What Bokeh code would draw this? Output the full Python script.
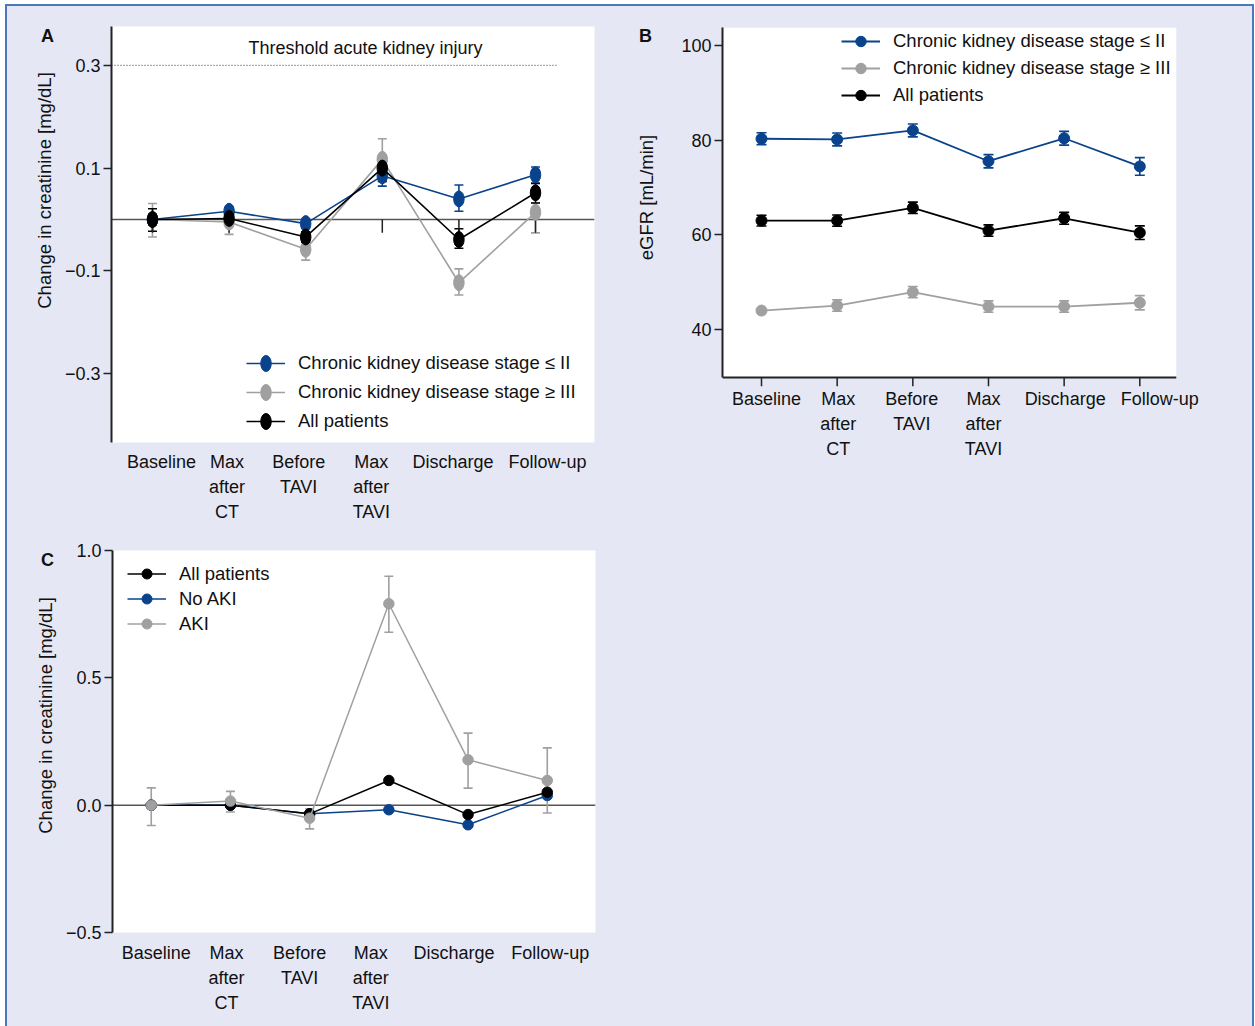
import math
from bokeh.plotting import figure
from bokeh.models import (ColumnDataSource, Whisker, TeeHead, Span, Label, Legend, BoxAnnotation,
                          LegendItem, FixedTicker, Range1d, Spacer, LinearAxis)
from bokeh.embed import file_html
from bokeh.resources import INLINE

# ---------------- data ----------------
categories = ["Baseline", "Max after CT", "Before TAVI", "Max after TAVI", "Discharge", "Follow-up"]
tick_labels = ["Baseline", "Max\nafter\nCT", "Before\nTAVI", "Max\nafter\nTAVI", "Discharge", "Follow-up"]

# Panel A: change in creatinine [mg/dL] by CKD stage
a_ckd12 = [0.0, 0.016, -0.008, 0.085, 0.040, 0.087]
a_ckd12_lo = [-0.010, 0.006, -0.016, 0.065, 0.016, 0.071]
a_ckd12_hi = [0.010, 0.024, 0.000, 0.105, 0.067, 0.102]
a_ckd3 = [0.0, -0.005, -0.058, 0.117, -0.123, 0.014]
a_ckd3_lo = [-0.034, -0.029, -0.079, 0.074, -0.147, -0.026]
a_ckd3_hi = [0.031, 0.016, -0.036, 0.157, -0.096, 0.032]
a_all = [0.0, 0.002, -0.034, 0.100, -0.039, 0.052]
a_all_lo = [-0.023, -0.008, -0.044, 0.074, -0.056, 0.032]
a_all_hi = [0.021, 0.012, -0.024, 0.123, -0.018, 0.070]
aki_threshold = 0.3
a_yticks = [-0.3, -0.1, 0.1, 0.3]

# Panel B: eGFR [mL/min]
b_ckd12 = [80.3, 80.15, 82.05, 75.55, 80.4, 74.45]
b_ckd12_err = [1.25, 1.35, 1.35, 1.4, 1.45, 1.85]
b_ckd3 = [44.0, 45.05, 47.9, 44.85, 44.85, 45.65]
b_ckd3_err = [0.3, 1.2, 1.2, 1.2, 1.2, 1.5]
b_all = [63.0, 63.0, 65.7, 60.9, 63.5, 60.45]
b_all_err = [1.15, 1.2, 1.2, 1.2, 1.25, 1.45]
b_yticks = [40, 60, 80, 100]
b_axis_min = 29.86

# Panel C: change in creatinine [mg/dL] by AKI
c_all = [0.0, 0.0, -0.034, 0.097, -0.037, 0.051]
c_noaki = [0.0, 0.0, -0.034, -0.018, -0.077, 0.038]
c_aki = [0.0, 0.016, -0.051, 0.791, 0.178, 0.097]
c_aki_lo = [-0.080, -0.027, -0.093, 0.679, 0.067, -0.031]
c_aki_hi = [0.068, 0.054, -0.014, 0.899, 0.283, 0.225]
c_yticks = [-0.5, 0.0, 0.5, 1.0]

# ---------------- style / layout ----------------
BLUE = "#0a438c"
GREY = "#a0a0a0"
BLACK = "#000000"
LAV = "#e5e8f4"
BORDER = "#4a78b8"
AXC = "#222222"
FONT = "Liberation Sans"

# horizontal nudges (px) of the category labels, as typeset in the original figure
lab_dx_A = [9, -2, -7, -11, -6, 12]
lab_dx_B = [5, 1, -1, -5, 1, 20]
lab_dx_C = [5, -4, -10, -18, -14, 3]

x_idx = list(range(len(categories)))

try:
    Label(x=0, y=0, x_units="canvas", y_units="canvas")
    UNITS = "canvas"
except Exception:
    UNITS = "screen"


def minus(v, fmt):
    s = fmt.format(abs(v))
    return ("\u2212" + s) if v < 0 else s


def base_fig(width, height, xr, yr, mbl, mbr, mbt, mbb, left, top, yticks, yfmt):
    p = figure(width=width, height=height, x_range=Range1d(*xr), y_range=Range1d(*yr),
               output_backend="svg", toolbar_location=None, x_axis_location=None,
               min_border_left=mbl, min_border_right=mbr, min_border_top=mbt, min_border_bottom=mbb,
               styles={"position": "absolute", "left": f"{left}px", "top": f"{top}px"})
    p.xgrid.visible = False
    p.ygrid.visible = False
    p.outline_line_color = None
    p.background_fill_color = "white"
    p.border_fill_color = LAV
    ya = p.yaxis[0]
    ya.ticker = FixedTicker(ticks=yticks)
    ya.major_label_overrides = {v: minus(v, yfmt) for v in yticks}
    ya.axis_line_color = AXC
    ya.axis_line_width = 2
    ya.major_tick_line_color = AXC
    ya.major_tick_line_width = 1.5
    ya.major_tick_out = 8
    ya.major_tick_in = 0
    ya.minor_tick_line_color = None
    ya.major_label_standoff = 3
    ya.major_label_text_font = FONT
    ya.major_label_text_font_size = "18px"
    ya.major_label_text_color = "#111"
    return p


def label_axis(p, dx_px, px_per_unit, standoff):
    pos = [round(i + d / px_per_unit, 4) for i, d in zip(x_idx, dx_px)]
    ax = LinearAxis(ticker=FixedTicker(ticks=pos),
                    major_label_overrides={v: lab for v, lab in zip(pos, tick_labels)},
                    axis_line_color=None, major_tick_line_color=None, minor_tick_line_color=None,
                    major_tick_out=0, major_tick_in=0, major_label_standoff=standoff,
                    major_label_text_font=FONT, major_label_text_font_size="18px",
                    major_label_text_line_height=1.25, major_label_text_color="#111")
    p.add_layout(ax, "below")


def whisk(p, lo, hi, color, size=9):
    src = ColumnDataSource(dict(x=x_idx, lower=lo, upper=hi))
    w = Whisker(base="x", lower="lower", upper="upper", source=src,
                line_color=color, line_width=1.6, level="underlay",
                upper_head=TeeHead(size=size, line_color=color, line_width=1.6),
                lower_head=TeeHead(size=size, line_color=color, line_width=1.6))
    p.add_layout(w)


def legend(p, items, loc, gh, spacing):
    lg = Legend(items=items, location=loc, glyph_width=39, glyph_height=gh, label_height=gh,
                spacing=spacing, padding=0, margin=0, border_line_color=None,
                background_fill_alpha=0, label_standoff=13,
                label_text_font=FONT, label_text_font_size="18.5px", label_text_color="#111")
    p.add_layout(lg)


def side_text(p, txt, x, y, size="18px", bold=False, angle=0.0):
    # x, y in canvas pixels from the canvas top-left corner
    p.add_layout(Label(x=x, y=y, x_units=UNITS, y_units=UNITS, text=txt, angle=angle,
                       text_font=FONT, text_font_style="bold" if bold else "normal",
                       text_font_size=size, text_align="center", text_baseline="middle",
                       text_color="#111"), "left")


# ---------------- Panel A ----------------
pA = base_fig(600, 525, (-0.535, 5.77), (-0.4339, 0.3755), 104, 13, 20, 89, 7, 6, a_yticks, "{:.1f}")
label_axis(pA, lab_dx_A, 76.6, 9)

pA.add_layout(Span(location=0, dimension="width", line_color="#555555", line_width=1.5, level="underlay"))
pA.segment(x0=[-0.535], y0=[aki_threshold], x1=[5.29], y1=[aki_threshold],
           line_color="#333333", line_width=1, line_dash="1 2")
pA.add_layout(Label(x=2.78, y=0.333, text="Threshold acute kidney injury", text_font=FONT,
                    text_font_size="18px", text_align="center", text_baseline="middle", text_color="#111"))
pA.segment(x0=x_idx, y0=[0] * 6, x1=x_idx, y1=[-0.026] * 6, line_color=AXC, line_width=1.5)

whisk(pA, a_ckd3_lo, a_ckd3_hi, GREY)
whisk(pA, a_ckd12_lo, a_ckd12_hi, BLUE)
whisk(pA, a_all_lo, a_all_hi, BLACK)

rA = {}
for name, ys, col in [("g", a_ckd3, GREY), ("b", a_ckd12, BLUE), ("k", a_all, BLACK)]:
    ln = pA.line(x_idx, ys, line_color=col, line_width=1.6)
    el = pA.ellipse(x=x_idx, y=ys, width=10.5, height=16, width_units="screen", height_units="screen",
                    fill_color=col, line_color=col)
    rA[name] = [ln, el]
legend(pA, [LegendItem(label="Chronic kidney disease stage \u2264 II", renderers=rA["b"]),
            LegendItem(label="Chronic kidney disease stage \u2265 III", renderers=rA["g"]),
            LegendItem(label="All patients", renderers=rA["k"])], (135, 10), 20, 7)
side_text(pA, "A", 40, 29, bold=True)
side_text(pA, "Change in creatinine [mg/dL]", 37, 184, size="18.5px", angle=math.pi / 2)

# ---------------- Panel B ----------------
px_b = 4.733  # px per mL/min
pB = base_fig(645, 525, (-0.5155, 5.485), (b_axis_min - 9 / px_b, 103.8), 115, 76, 21, 145, 607, 6,
              b_yticks, "{:.0f}")
pB.background_fill_color = LAV
pB.yaxis[0].bounds = (b_axis_min, 103.8)
pB.add_layout(BoxAnnotation(bottom=b_axis_min, fill_color="white", fill_alpha=1.0,
                            line_color=None, level="underlay"))
pB.add_layout(Span(location=b_axis_min, dimension="width", line_color=AXC, line_width=2))
pB.segment(x0=x_idx, y0=[b_axis_min] * 6, x1=x_idx, y1=[b_axis_min - 9 / px_b] * 6,
           line_color=AXC, line_width=1.5)
label_axis(pB, lab_dx_B, 75.66, 2)

rB = {}
for name, ys, err, col in [("b", b_ckd12, b_ckd12_err, BLUE), ("g", b_ckd3, b_ckd3_err, GREY),
                           ("k", b_all, b_all_err, BLACK)]:
    whisk(pB, [y - e for y, e in zip(ys, err)], [y + e for y, e in zip(ys, err)], col, size=10)
    ln = pB.line(x_idx, ys, line_color=col, line_width=1.8)
    sc = pB.scatter(x_idx, ys, size=11, marker="circle", fill_color=col, line_color=col)
    rB[name] = [ln, sc]
legend(pB, [LegendItem(label="Chronic kidney disease stage \u2264 II", renderers=rB["b"]),
            LegendItem(label="Chronic kidney disease stage \u2265 III", renderers=rB["g"]),
            LegendItem(label="All patients", renderers=rB["k"])], (119, 278), 26, 1)
side_text(pB, "B", 38, 29, bold=True)
side_text(pB, "eGFR [mL/min]", 39, 191, size="18.5px", angle=math.pi / 2)

# ---------------- Panel C ----------------
pC = base_fig(600, 495, (-0.489, 5.609), (-0.5, 1.0), 105, 12, 19, 94, 7, 531, c_yticks, "{:.1f}")
label_axis(pC, lab_dx_C, 79.2, 10)

pC.add_layout(Span(location=0, dimension="width", line_color="#555555", line_width=1.5, level="underlay"))
whisk(pC, c_aki_lo, c_aki_hi, GREY, size=9)
rC = {}
for name, ys, col in [("b", c_noaki, BLUE), ("k", c_all, BLACK), ("g", c_aki, GREY)]:
    ln = pC.line(x_idx, ys, line_color=col, line_width=1.5)
    sc = pC.scatter(x_idx, ys, size=10.5, marker="circle", fill_color=col, line_color=col)
    rC[name] = [ln, sc]
legend(pC, [LegendItem(label="All patients", renderers=rC["k"]),
            LegendItem(label="No AKI", renderers=rC["b"]),
            LegendItem(label="AKI", renderers=rC["g"])], (15, 296), 25, 0)
side_text(pC, "C", 40, 28, bold=True)
side_text(pC, "Change in creatinine [mg/dL]", 38, 184, size="18.5px", angle=math.pi / 2)

# ---------------- page background ----------------
bg = Spacer(width=1245, height=1020,
            styles={"position": "absolute", "left": "7px", "top": "6px",
                    "background-color": LAV, "outline": "2px solid " + BORDER})

open("out.html", "w").write(file_html([bg, pA, pB, pC], INLINE))
